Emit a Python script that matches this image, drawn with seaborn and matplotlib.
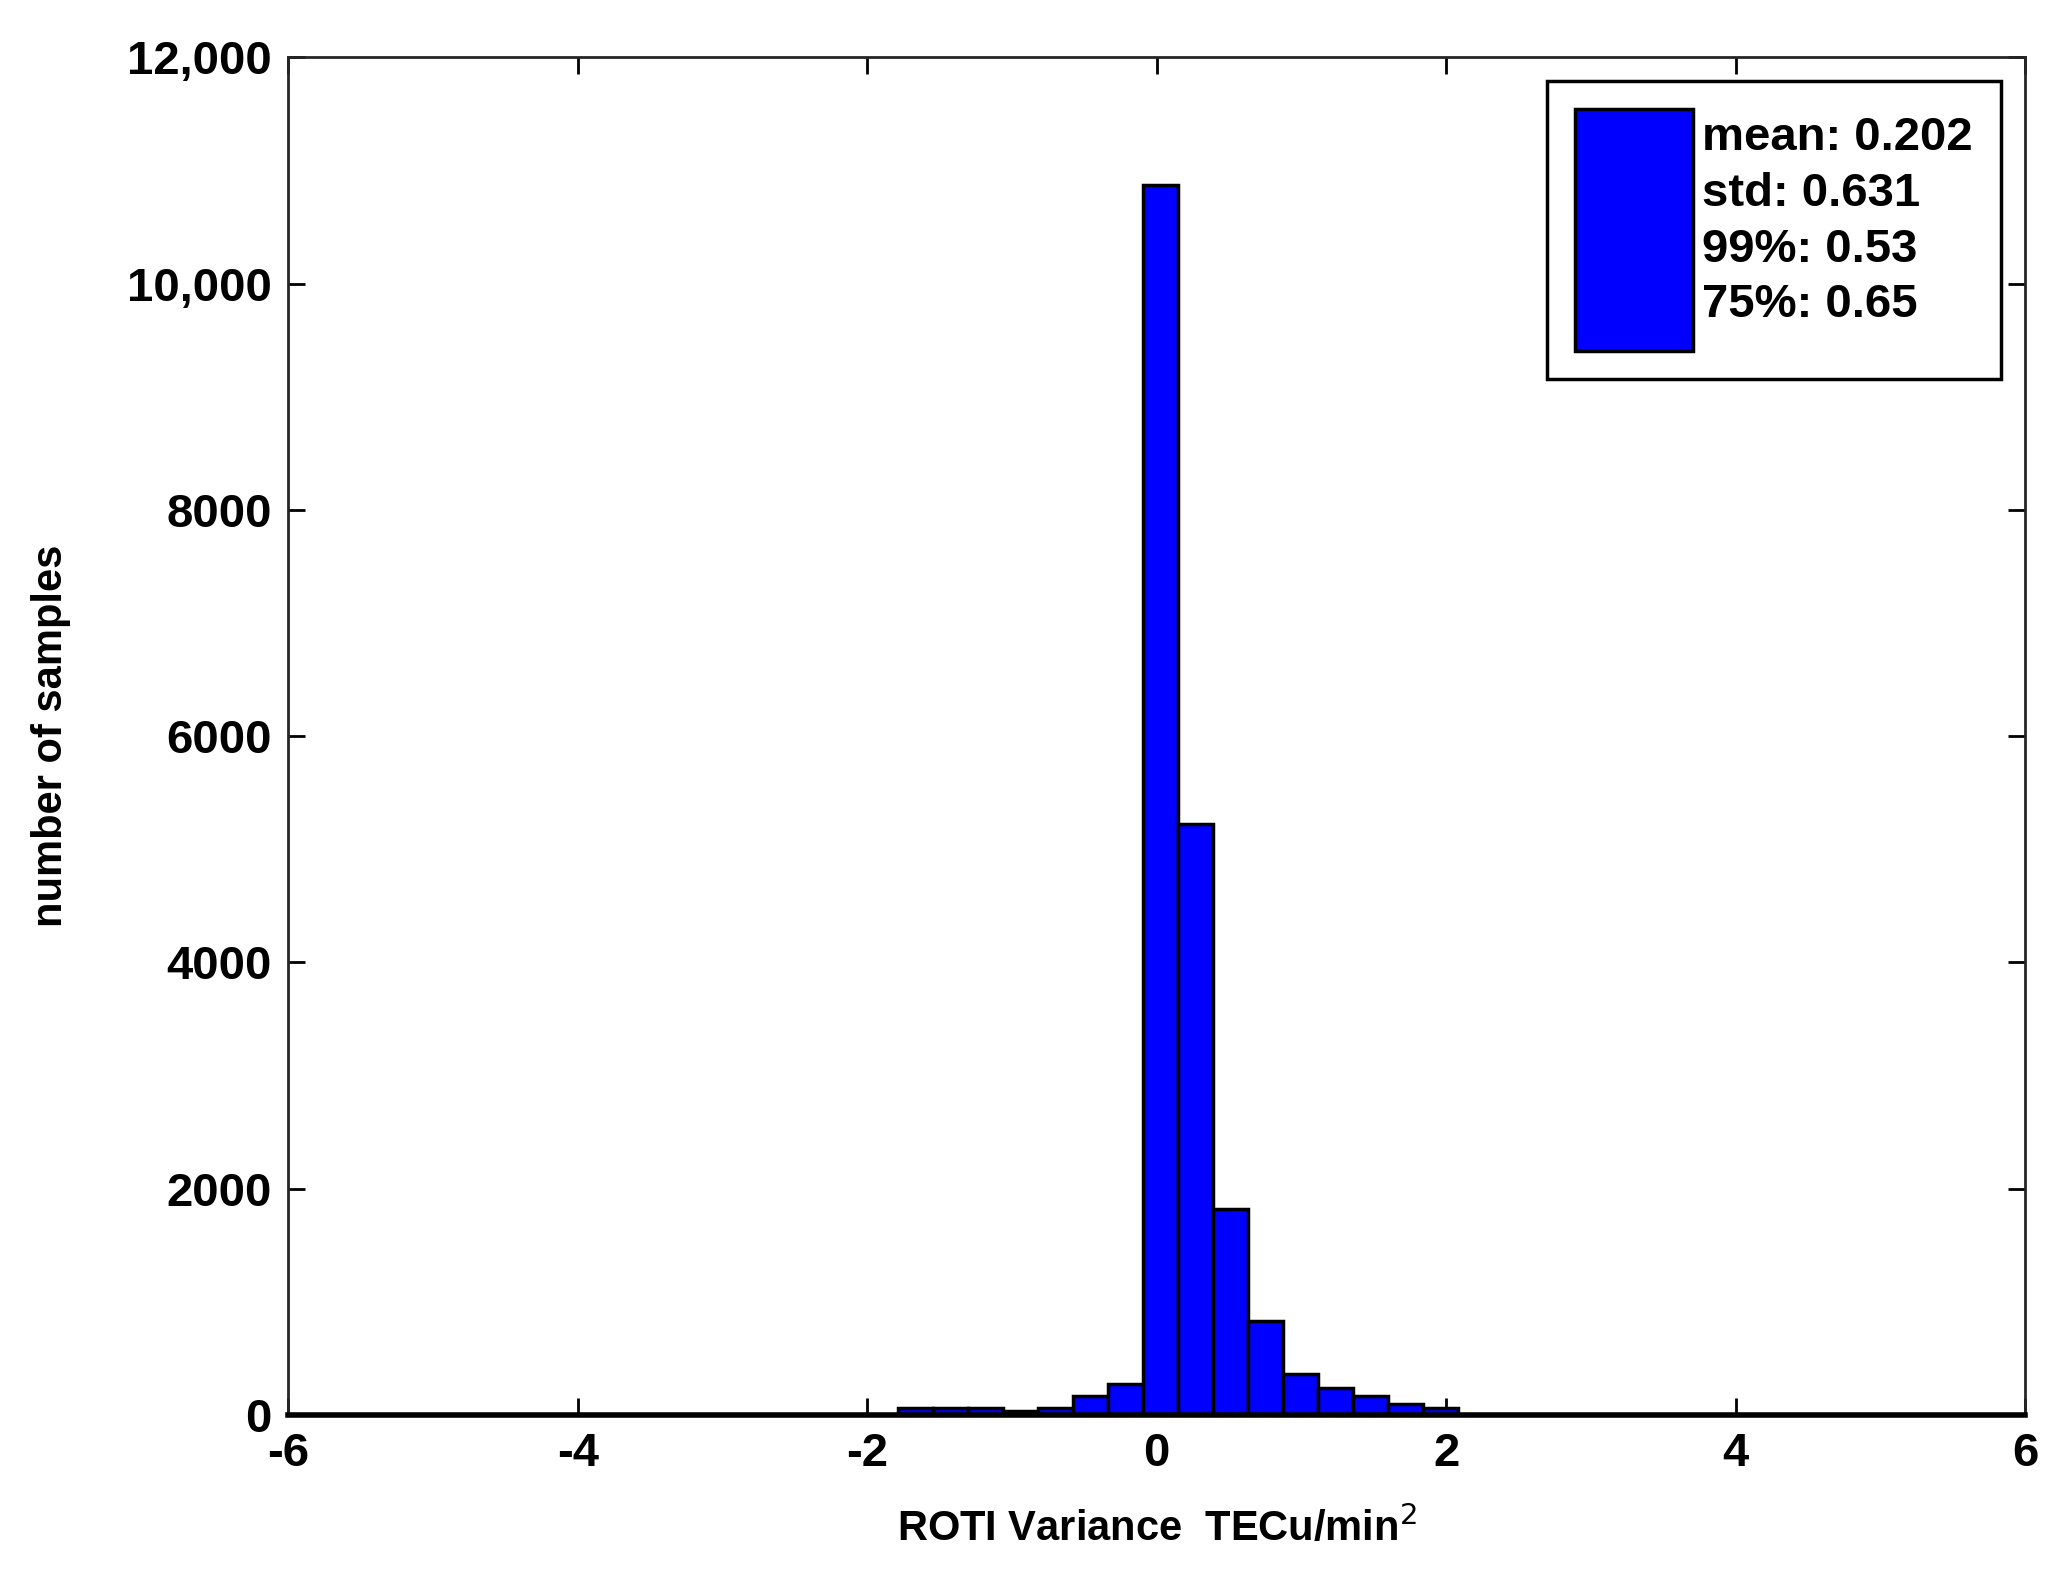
import matplotlib
matplotlib.use("Agg")
import matplotlib.pyplot as plt
import numpy as np
import pandas as pd
import seaborn as sns

# histogram bins (width ~0.2415) and counts
bin_width = 0.2415
bin_start = -5.89
counts_nonzero = [67, 67, 67, 38, 67, 170, 272, 10870, 5222, 1822, 836, 360, 243, 170, 97, 67]
first_nonzero_bin = 17
n_bins = 49

counts = np.zeros(n_bins)
counts[first_nonzero_bin:first_nonzero_bin + len(counts_nonzero)] = counts_nonzero
edges = bin_start + bin_width * np.arange(n_bins + 1)
centers = (edges[:-1] + edges[1:]) / 2
df = pd.DataFrame({"roti": centers, "n": counts})

stats_text = "mean: 0.202\nstd: 0.631\n99%: 0.53\n75%: 0.65"
yticks = [0, 2000, 4000, 6000, 8000, 10000, 12000]
yticklabels = ["0", "2000", "4000", "6000", "8000", "10,000", "12,000"]

sns.set_style("ticks")
plt.rcParams['font.family'] = ['Liberation Sans', 'DejaVu Sans']
plt.rcParams['text.color'] = 'black'
plt.rcParams['xtick.color'] = 'black'
plt.rcParams['ytick.color'] = 'black'
plt.rcParams['axes.labelcolor'] = 'black'

fig = plt.figure(figsize=(20.6, 15.9), dpi=100)
ax = fig.add_axes([0.14, 0.11, 0.843, 0.854])

sns.histplot(data=df, x="roti", weights="n", bins=n_bins,
             binrange=(edges[0], edges[-1]), color="#0000ff", alpha=1,
             edgecolor="black", linewidth=2.5, ax=ax, label=stats_text)

ax.set_xlim(-6, 6)
ax.set_ylim(0, 12000)
ax.set_xticks(np.arange(-6, 7, 2))
ax.set_xticklabels([str(v) for v in range(-6, 7, 2)], fontsize=34, fontweight="bold")
ax.set_yticks(yticks)
ax.set_yticklabels(yticklabels, fontsize=34, fontweight="bold")
ax.tick_params(direction="in", length=12, width=2, top=True, right=True, pad=12)
for s in ax.spines.values():
    s.set_linewidth(2)
    s.set_visible(True)
ax.spines["bottom"].set_linewidth(4)
ax.spines["bottom"].set_color("black")

ax.set_xlabel("ROTI Variance  TECu/min$^2$", fontsize=30, fontweight="bold", labelpad=22)
ax.set_ylabel("number of samples", fontsize=30, fontweight="bold", labelpad=40)

leg = ax.legend(loc="upper right", handlelength=2.5, handleheight=7.5,
                handletextpad=0.2, fancybox=False, framealpha=1, edgecolor="black",
                borderpad=0.6, borderaxespad=0.5, prop={"size": 34, "weight": "bold"})
leg.get_frame().set_linewidth(2.5)
for t in leg.get_texts():
    t.set_linespacing(1.35)

fig.savefig("out.png", dpi=100)
